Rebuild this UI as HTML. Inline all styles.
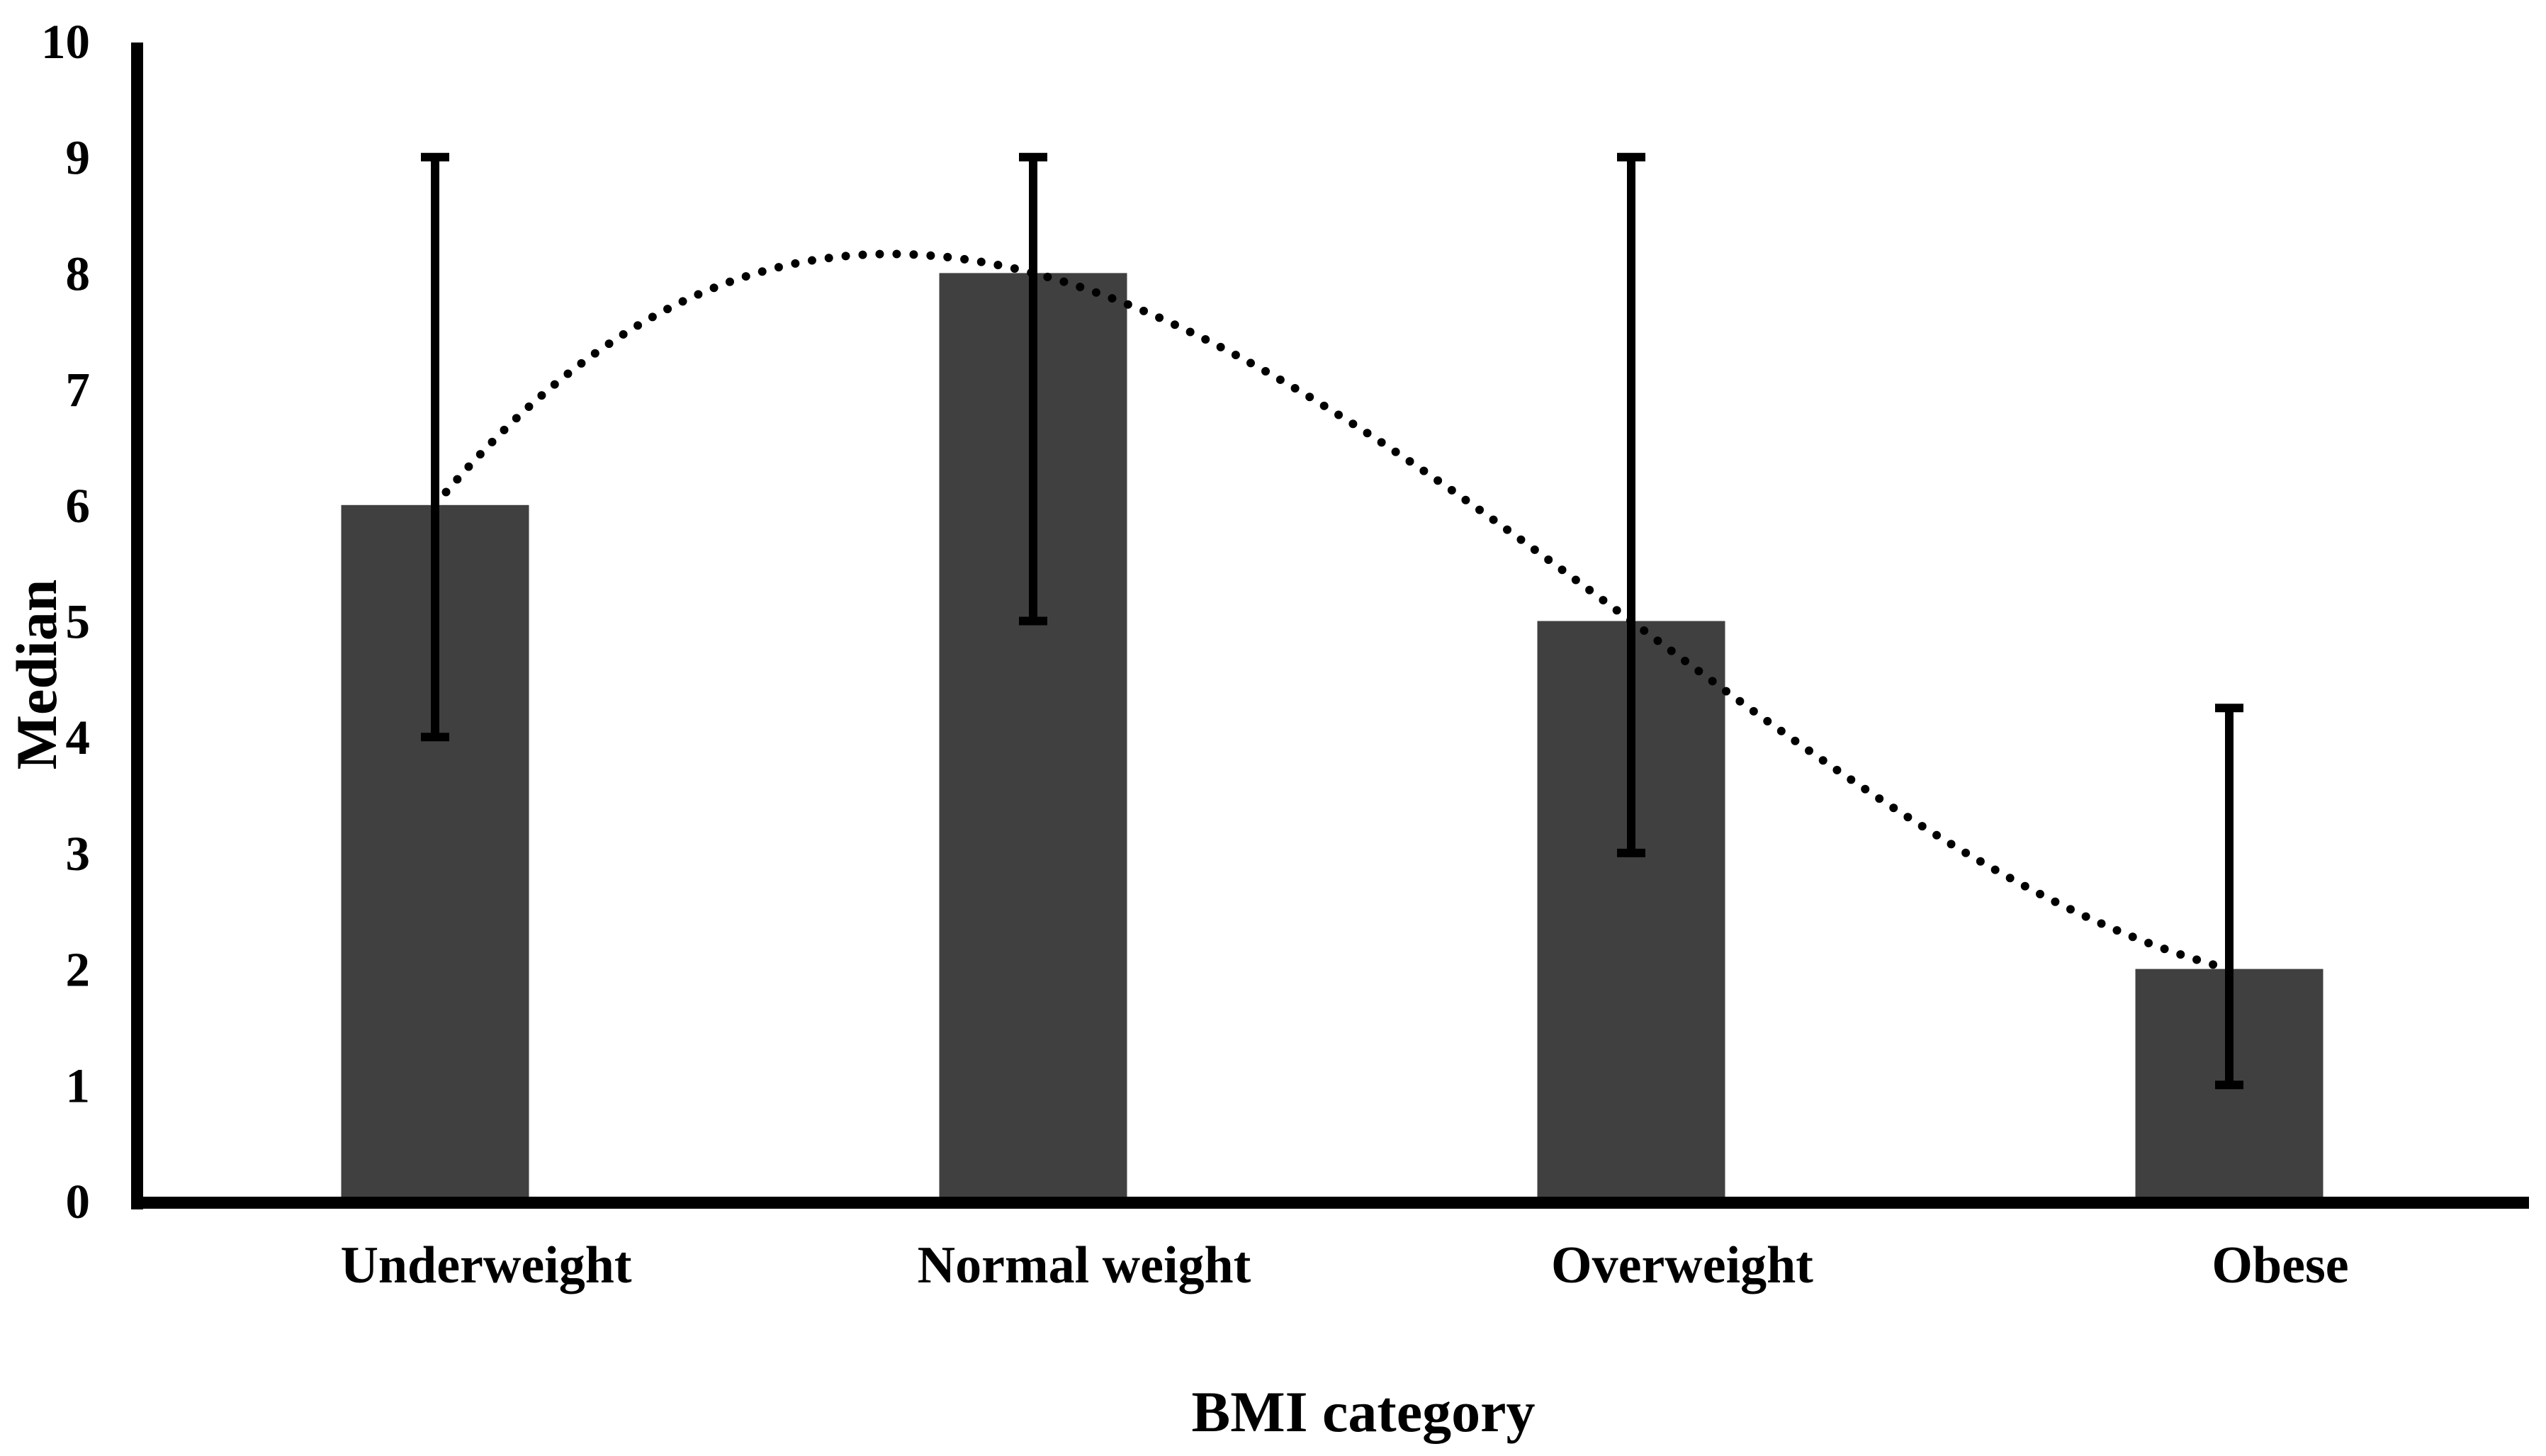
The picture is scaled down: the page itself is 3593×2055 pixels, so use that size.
<!DOCTYPE html>
<html><head><meta charset="utf-8">
<style>
html,body{margin:0;padding:0;background:#fff;}
svg{display:block;}
text{font-family:"Liberation Serif",serif;font-weight:bold;fill:#000;}
</style></head>
<body>
<svg id="chart" width="3593" height="2055" viewBox="0 0 3593 2055" xmlns="http://www.w3.org/2000/svg">
<g id="bars"></g>
<g id="trend"></g>
<g id="errs"></g>
<rect x="185" y="60" width="17" height="1647" fill="#000"/>
<rect x="193" y="1689" width="3376" height="17" fill="#000"/>
<g id="yticks"></g>
<g id="xlabels"></g>
<text x="1924" y="2020" font-size="82" text-anchor="middle">BMI category</text>
<text x="0" y="0" font-size="82" text-anchor="middle" transform="translate(79,952) rotate(-90)">Median</text>
</svg>
<script>
const categories = ["Underweight", "Normal weight", "Overweight", "Obese"];
const medians = [6, 8, 5, 2];
const errLow = [4, 5, 3, 1];
const errHigh = [9, 9, 9, 4.25];
const yTicks = [0, 1, 2, 3, 4, 5, 6, 7, 8, 9, 10];

const NS = "http://www.w3.org/2000/svg";
const y0 = 1695, unit = 163.7;
function yScale(v){ return y0 - v * unit; }
const cx0 = 614, step = 844;
function xScale(i){ return cx0 + i * step; }
const barW = 265;

const bars = document.getElementById('bars');
const errs = document.getElementById('errs');
const xl = document.getElementById('xlabels');
categories.forEach((c, i) => {
  const r = document.createElementNS(NS, 'rect');
  
  
  r.setAttribute('x', xScale(i) - barW / 2);
  r.setAttribute('y', yScale(medians[i]));
  r.setAttribute('width', barW);
  r.setAttribute('height', yScale(0) - yScale(medians[i]));
  r.setAttribute('fill', '#404040');
  bars.appendChild(r);

  const g = document.createElementNS(NS, 'g');
  
  
  const x = xScale(i);
  const d = `M${x},${yScale(errHigh[i])}V${yScale(errLow[i])}M${x-20},${yScale(errHigh[i])}H${x+20}M${x-20},${yScale(errLow[i])}H${x+20}`;
  const p = document.createElementNS(NS, 'path');
  p.setAttribute('d', d);
  p.setAttribute('stroke', '#000');
  p.setAttribute('stroke-width', '12');
  p.setAttribute('fill', 'none');
  g.appendChild(p);
  errs.appendChild(g);

  const t = document.createElementNS(NS, 'text');
  
  
  t.setAttribute('x', xScale(i) + 72);
  t.setAttribute('y', 1810);
  t.setAttribute('font-size', '74');
  t.setAttribute('text-anchor', 'middle');
  t.textContent = c;
  xl.appendChild(t);
});

const yt = document.getElementById('yticks');
yTicks.forEach(v => {
  const t = document.createElementNS(NS, 'text');
  
  
  t.setAttribute('x', 127);
  t.setAttribute('y', yScale(v) + 24);
  t.setAttribute('font-size', '69');
  t.setAttribute('text-anchor', 'end');
  t.textContent = v;
  yt.appendChild(t);
});

// polynomial (Lagrange) trendline through medians
function poly(x){
  let s = 0;
  for (let i = 0; i < medians.length; i++) {
    let l = 1;
    for (let j = 0; j < medians.length; j++) if (j !== i) l *= (x - j) / (i - j);
    s += medians[i] * l;
  }
  return s;
}
let d = '';
const n = 300, last = medians.length - 1;
for (let k = 0; k <= n; k++) {
  const x = last * k / n;
  d += (k ? 'L' : 'M') + (cx0 + x * step).toFixed(1) + ',' + yScale(poly(x)).toFixed(1);
}
const tp = document.createElementNS(NS, 'path');


tp.setAttribute('d', d);
tp.setAttribute('fill', 'none');
tp.setAttribute('stroke', '#000');
tp.setAttribute('stroke-width', '12');
tp.setAttribute('stroke-linecap', 'round');
tp.setAttribute('stroke-dasharray', '0 24');
document.getElementById('trend').appendChild(tp);
</script>
</body></html>
